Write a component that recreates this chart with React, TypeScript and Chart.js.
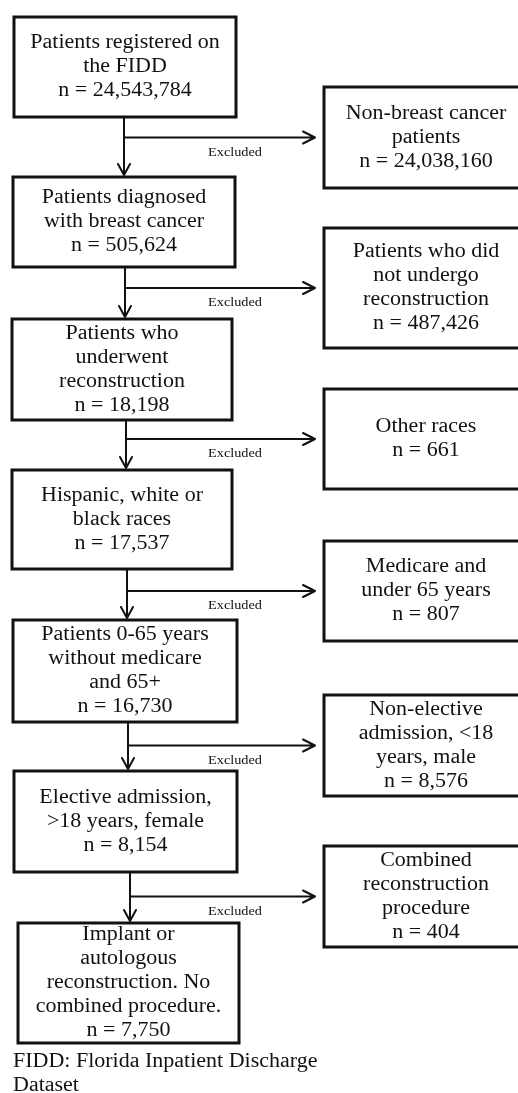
import React, { useEffect, useRef } from "react";
import { Chart, registerables } from "chart.js";

Chart.register(...registerables);

// ---- content ----
const stepLabels: string[][] = [
  ["Patients registered on", "the FIDD"],
  ["Patients diagnosed", "with breast cancer"],
  ["Patients who", "underwent", "reconstruction"],
  ["Hispanic, white or", "black races"],
  ["Patients 0-65 years", "without medicare", "and 65+"],
  ["Elective admission,", ">18 years, female"],
  ["Implant or", "autologous", "reconstruction. No", "combined procedure."],
];
const stepCounts: number[] = [24543784, 505624, 18198, 17537, 16730, 8154, 7750];

const excludedLabels: string[][] = [
  ["Non-breast cancer", "patients"],
  ["Patients who did", "not undergo", "reconstruction"],
  ["Other races"],
  ["Medicare and", "under 65 years"],
  ["Non-elective", "admission, <18", "years, male"],
  ["Combined", "reconstruction", "procedure"],
];
const excludedCounts: number[] = [24038160, 487426, 661, 807, 8576, 404];

const flowLabel = "Excluded";
const footnoteLines: string[] = ["FIDD: Florida Inpatient Discharge", "Dataset"];

// ---- layout (value-space of the hidden linear scales) ----
const stepBoxes: number[][] = [
  [14, 17, 236, 117],
  [13, 177, 235, 267],
  [12, 319, 232, 420],
  [12, 470, 232, 569],
  [13, 620, 237, 722],
  [14, 771, 237, 872],
  [18, 923, 239, 1043],
];
const excludedBoxes: number[][] = [
  [324, 87, 528, 188],
  [324, 228, 528, 348],
  [324, 389, 528, 489],
  [324, 541, 528, 641],
  [324, 695, 528, 796],
  [324, 846, 528, 947],
];
const spineX: number[] = [124, 125, 126, 127, 128, 130];
const arrowTipX = 315;
const footnoteY: number[] = [1062, 1086];
const footnoteX = 13;

const W = 518;
const H = 1093;
const FONT = "'Liberation Serif', 'Times New Roman', serif";
const STRETCH = 1.1;
const INK = "#111111";

const fmt = (n: number) => "n = " + n.toLocaleString("en-US");

function drawText(
  ctx: CanvasRenderingContext2D,
  text: string,
  x: number,
  y: number,
  size: number,
  align: "center" | "left"
) {
  ctx.save();
  ctx.font = `${size}px ${FONT}`;
  ctx.textBaseline = "middle";
  ctx.textAlign = align;
  ctx.fillStyle = INK;
  ctx.translate(x, y);
  ctx.scale(STRETCH, 1);
  ctx.fillText(text, 0, 0);
  ctx.restore();
}

const flowPlugin = {
  id: "flowPlugin",
  afterDatasetsDraw(chart: any) {
    const ctx: CanvasRenderingContext2D = chart.ctx;
    const xs = chart.scales.x;
    const ys = chart.scales.y;
    const px = (v: number) => xs.getPixelForValue(v);
    const py = (v: number) => ys.getPixelForValue(v);
    const lineH = 24;

    const drawBox = (b: number[], lines: string[]) => {
      const l = px(b[0]);
      const t = py(b[1]);
      const r = px(b[2]);
      const bt = py(b[3]);
      ctx.save();
      ctx.fillStyle = "#ffffff";
      ctx.fillRect(l, t, r - l, bt - t);
      ctx.strokeStyle = INK;
      ctx.lineWidth = 3;
      ctx.strokeRect(l, t, r - l, bt - t);
      ctx.restore();
      const cx = (l + r) / 2;
      const cy = (t + bt) / 2;
      const start = cy - ((lines.length - 1) * lineH) / 2;
      lines.forEach((s, i) => drawText(ctx, s, cx, start + i * lineH, 20, "center"));
    };

    // connectors
    ctx.save();
    ctx.strokeStyle = INK;
    ctx.lineWidth = 2;
    ctx.lineCap = "round";
    ctx.lineJoin = "round";
    for (let i = 0; i < excludedBoxes.length; i++) {
      const x = px(spineX[i]);
      const y0 = py(stepBoxes[i][3]);
      const tipY = py(stepBoxes[i + 1][1]) - 2;
      const eb = excludedBoxes[i];
      const by = py((eb[1] + eb[3]) / 2);
      const tipX = px(arrowTipX);
      ctx.beginPath();
      ctx.moveTo(x, y0);
      ctx.lineTo(x, tipY);
      ctx.moveTo(x - 6, tipY - 11);
      ctx.lineTo(x, tipY);
      ctx.lineTo(x + 6, tipY - 11);
      ctx.moveTo(x, by);
      ctx.lineTo(tipX, by);
      ctx.moveTo(tipX - 12, by - 6);
      ctx.lineTo(tipX, by);
      ctx.lineTo(tipX - 12, by + 6);
      ctx.stroke();
      drawText(ctx, flowLabel, px(235), by + 15, 13, "center");
    }
    ctx.restore();

    stepBoxes.forEach((b, i) => drawBox(b, [...stepLabels[i], fmt(stepCounts[i])]));
    excludedBoxes.forEach((b, i) => drawBox(b, [...excludedLabels[i], fmt(excludedCounts[i])]));

    footnoteLines.forEach((s, i) => drawText(ctx, s, px(footnoteX), py(footnoteY[i]), 20, "left"));
  },
};

export default function App() {
  const ref = useRef<HTMLCanvasElement | null>(null);
  useEffect(() => {
    if (!ref.current) return;
    const points = [
      ...stepBoxes.map((b, i) => ({ x: (b[0] + b[2]) / 2, y: (b[1] + b[3]) / 2, n: stepCounts[i] })),
      ...excludedBoxes.map((b, i) => ({ x: (b[0] + b[2]) / 2, y: (b[1] + b[3]) / 2, n: excludedCounts[i] })),
    ];
    const chart = new Chart(ref.current, {
      type: "scatter",
      data: {
        datasets: [
          {
            label: "Patients",
            data: points,
            pointRadius: 0,
            pointHoverRadius: 0,
          },
        ],
      },
      options: {
        animation: false,
        responsive: false,
        maintainAspectRatio: false,
        devicePixelRatio: 1,
        layout: { padding: 0 },
        events: [],
        plugins: { legend: { display: false }, tooltip: { enabled: false } },
        scales: {
          x: { type: "linear", min: 0, max: W, display: false },
          y: { type: "linear", min: 0, max: H, reverse: true, display: false },
        },
      },
      plugins: [flowPlugin],
    });
    return () => chart.destroy();
  }, []);
  return (
    <div style={{ position: "fixed", left: 0, top: 0, width: W, height: H, background: "#fff" }}>
      <canvas ref={ref} width={W} height={H} style={{ display: "block", width: W, height: H }} />
    </div>
  );
}
